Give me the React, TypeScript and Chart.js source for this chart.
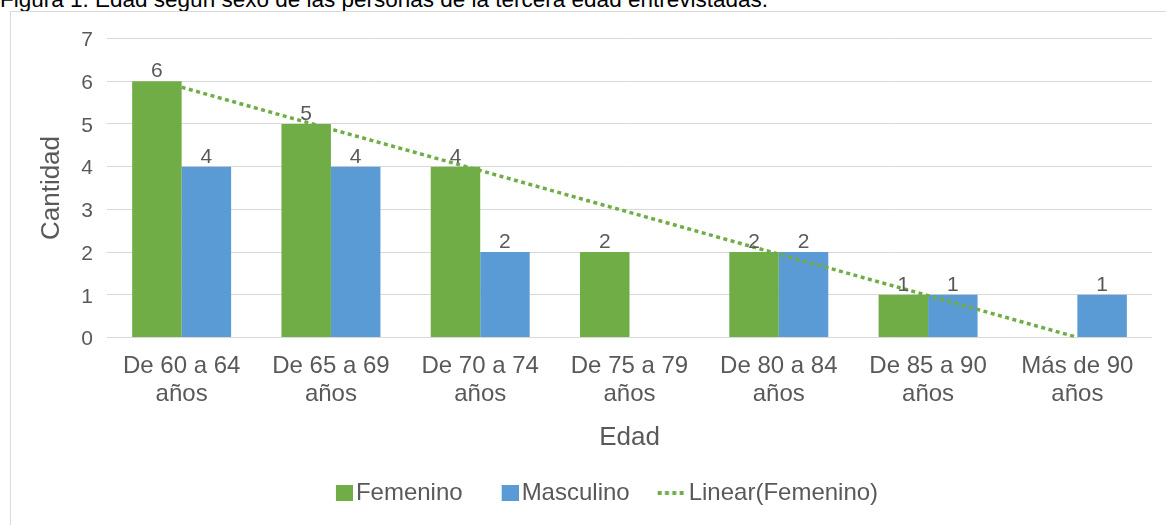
import React, { useEffect, useRef } from 'react';
import { Chart, registerables } from 'chart.js';

Chart.register(...registerables);

const FONT = '"Liberation Sans", Arial, sans-serif';
const TEXT_COLOR = '#595959';
const GREEN = '#70AD47';
const BLUE = '#5B9BD5';

const figureCaption = 'Figura 1. Edad según sexo de las personas de la tercera edad entrevistadas.';
const categories: string[][] = [
  ['De 60 a 64', 'años'],
  ['De 65 a 69', 'años'],
  ['De 70 a 74', 'años'],
  ['De 75 a 79', 'años'],
  ['De 80 a 84', 'años'],
  ['De 85 a 90', 'años'],
  ['Más de 90', 'años'],
];
const femenino: (number | null)[] = [6, 5, 4, 2, 2, 1, null];
const masculino: (number | null)[] = [4, 4, 2, null, 2, 1, 1];
const linearFemenino: number[] = [5.86, 4.88, 3.91, 2.93, 1.95, 0.98, 0];
const seriesLabels = ['Femenino', 'Masculino', 'Linear(Femenino)'];
const xTitle = 'Edad';
const yTitle = 'Cantidad';
const yMin = 0;
const yMax = 7;
const yStep = 1;

function makeSquareIcon(color: string): HTMLCanvasElement {
  const c = document.createElement('canvas');
  c.width = 38;
  c.height = 16;
  const g = c.getContext('2d')!;
  g.fillStyle = color;
  g.fillRect(21, 0, 17, 16);
  return c;
}

function makeDotsIcon(color: string): HTMLCanvasElement {
  const c = document.createElement('canvas');
  c.width = 38;
  c.height = 4;
  const g = c.getContext('2d')!;
  g.fillStyle = color;
  for (let k = 0; k < 4; k++) g.fillRect(10 + k * 7.3, 0, 4, 4);
  return c;
}

const barValueLabels = {
  id: 'barValueLabels',
  afterDatasetsDraw(chart: any) {
    const ctx = chart.ctx;
    ctx.save();
    ctx.font = `21px ${FONT}`;
    ctx.fillStyle = TEXT_COLOR;
    ctx.textAlign = 'center';
    ctx.textBaseline = 'alphabetic';
    chart.data.datasets.forEach((ds: any, i: number) => {
      if (ds.type !== 'bar') return;
      const meta = chart.getDatasetMeta(i);
      meta.data.forEach((el: any, j: number) => {
        const v = ds.data[j];
        if (v === null || v === undefined) return;
        ctx.fillText(String(v), el.x, el.y - 4);
      });
    });
    ctx.restore();
  },
};

export default function App() {
  const canvasRef = useRef<HTMLCanvasElement | null>(null);

  useEffect(() => {
    if (!canvasRef.current) return;
    const icons = [makeSquareIcon(GREEN), makeSquareIcon(BLUE), makeDotsIcon(GREEN)];
    const chart = new Chart(canvasRef.current, {
      type: 'bar',
      data: {
        labels: categories,
        datasets: [
          {
            type: 'bar',
            label: seriesLabels[0],
            data: femenino,
            backgroundColor: GREEN,
            borderWidth: 0,
            categoryPercentage: 0.663,
            barPercentage: 1,
          },
          {
            type: 'bar',
            label: seriesLabels[1],
            data: masculino,
            backgroundColor: BLUE,
            borderWidth: 0,
            categoryPercentage: 0.663,
            barPercentage: 1,
          },
          {
            type: 'line',
            label: seriesLabels[2],
            data: linearFemenino,
            borderColor: GREEN,
            borderWidth: 3.5,
            borderDash: [4, 3.5],
            borderCapStyle: 'butt',
            pointRadius: 0,
            fill: false,
            tension: 0,
            order: -1,
          },
        ] as any,
      },
      options: {
        responsive: false,
        animation: false,
        layout: { padding: { top: 24, left: 39, right: 39, bottom: 0 } },
        plugins: {
          tooltip: { enabled: false },
          legend: {
            position: 'bottom',
            labels: {
              usePointStyle: true,
              boxWidth: 20,
              padding: 27,
              color: TEXT_COLOR,
              font: { family: FONT, size: 24 },
              generateLabels: (c: any) =>
                c.data.datasets.map((ds: any, i: number) => ({
                  text: ds.label,
                  pointStyle: icons[i],
                  fillStyle: 'rgba(0,0,0,0)',
                  strokeStyle: 'rgba(0,0,0,0)',
                  lineWidth: 0,
                  hidden: false,
                  datasetIndex: i,
                  fontColor: TEXT_COLOR,
                })),
            },
          },
        },
        scales: {
          x: {
            grid: { display: false, drawTicks: false },
            border: { display: false },
            ticks: {
              color: TEXT_COLOR,
              font: { family: FONT, size: 24, lineHeight: 28 / 24 },
              padding: 15,
              maxRotation: 0,
              minRotation: 0,
              autoSkip: false,
            },
            title: {
              display: true,
              text: xTitle,
              color: TEXT_COLOR,
              font: { family: FONT, size: 26, lineHeight: 1.2 },
              padding: { top: 0, bottom: 1 },
            },
            afterFit: (s: any) => {
              s.height = 116.6;
            },
          },
          y: {
            min: yMin,
            max: yMax,
            ticks: {
              stepSize: yStep,
              padding: 14,
              color: TEXT_COLOR,
              font: { family: FONT, size: 21 },
              labelOffset: 2,
            },
            grid: { color: '#d9d9d9', lineWidth: 1, drawTicks: false },
            border: { display: false },
            title: {
              display: true,
              text: yTitle,
              color: TEXT_COLOR,
              font: { family: FONT, size: 26, lineHeight: 1.2 },
              padding: { top: -13.6, bottom: 0 },
            },
            afterFit: (s: any) => {
              s.width = 57;
            },
          },
        },
      } as any,
      plugins: [barValueLabels],
    });
    return () => chart.destroy();
  }, []);

  return (
    <div
      style={{
        position: 'fixed',
        left: 0,
        top: 0,
        width: 1166,
        height: 525,
        overflow: 'hidden',
        background: '#ffffff',
      }}
    >
      <div
        style={{
          position: 'absolute',
          left: 0,
          top: -10.8,
          fontFamily: FONT,
          fontSize: 22.5,
          lineHeight: '22px',
          color: '#000000',
          whiteSpace: 'nowrap',
        }}
      >
        {figureCaption}
      </div>
      <div
        style={{
          position: 'absolute',
          left: 10,
          top: 11,
          width: 1180,
          height: 600,
          border: '1px solid #d9d9d9',
          background: '#ffffff',
        }}
      >
        <canvas ref={canvasRef} width={1180} height={503} style={{ display: 'block' }} />
      </div>
    </div>
  );
}
